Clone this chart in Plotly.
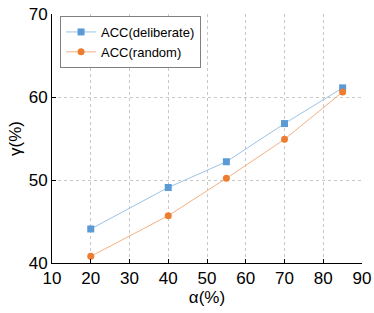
import plotly.graph_objects as go

alpha = [20, 40, 55, 70, 85]
acc_deliberate = [44.1, 49.1, 52.2, 56.8, 61.1]
acc_random = [40.8, 45.7, 50.2, 54.9, 60.6]
x_ticks = [10, 20, 30, 40, 50, 60, 70, 80, 90]
y_ticks = [40, 50, 60, 70]

blue = "#5b9bd5"
orange = "#ed7d31"
font = "Liberation Sans, Arial, Helvetica, sans-serif"

fig = go.Figure()
fig.add_trace(go.Scatter(x=alpha, y=acc_deliberate, mode="lines+markers", name="ACC(deliberate)",
                         line=dict(color="#9dc3e6", width=1),
                         marker=dict(symbol="square", size=7, color=blue)))
fig.add_trace(go.Scatter(x=alpha, y=acc_random, mode="lines+markers", name="ACC(random)",
                         line=dict(color="#f4b183", width=1),
                         marker=dict(symbol="circle", size=7, color=orange)))

fig.update_layout(
    width=374, height=313,
    margin=dict(l=52, r=12, t=14, b=50, autoexpand=False),
    paper_bgcolor="white", plot_bgcolor="white",
    font=dict(family=font, size=17, color="black"),
    showlegend=True,
    legend=dict(x=0.026, y=0.992, xanchor="left", yanchor="top",
                bgcolor="white", bordercolor="#808080", borderwidth=1,
                font=dict(size=13), tracegroupgap=0, itemwidth=30),
    xaxis=dict(range=[10, 90], tickvals=x_ticks, ticktext=[str(v) for v in x_ticks],
               showline=True, linecolor="black", linewidth=1,
               ticks="inside", ticklen=4, tickcolor="black",
               showgrid=True, gridcolor="#c8c8c8", griddash="dot", gridwidth=1,
               zeroline=False, automargin=False,
               title=dict(text="α(%)", standoff=0, font=dict(size=17)),
               tickfont=dict(size=17)),
    yaxis=dict(range=[40, 70], tickvals=y_ticks, ticktext=[str(v) for v in y_ticks],
               showline=True, linecolor="black", linewidth=1,
               ticks="inside", ticklen=4, tickcolor="black",
               showgrid=True, gridcolor="#c8c8c8", griddash="dot", gridwidth=1,
               zeroline=False, automargin=False,
               title=dict(text="γ(%)", standoff=2, font=dict(size=17)),
               tickfont=dict(size=17)),
)

fig.write_html("out.html", config={"displayModeBar": False},
               post_script="document.body.style.margin='0';")
